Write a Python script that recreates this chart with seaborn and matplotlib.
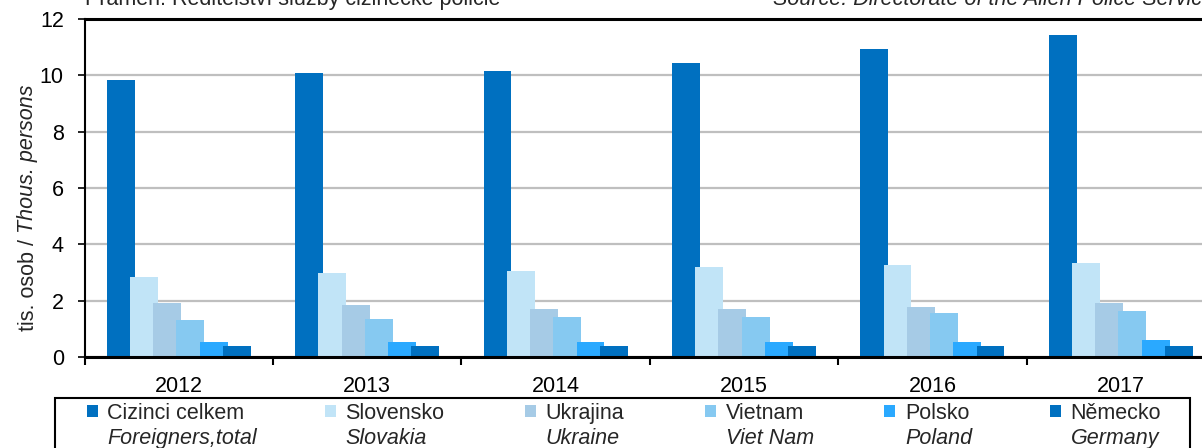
import numpy as np
import pandas as pd
import matplotlib
matplotlib.use("Agg")
import matplotlib.pyplot as plt
import matplotlib.patches as mpatches
from matplotlib.ticker import FixedLocator
from matplotlib.transforms import IdentityTransform
import seaborn as sns

# Data (tis. osob / thous. persons)
years = ["2012", "2013", "2014", "2015", "2016", "2017"]
cizinci = [9.83, 10.09, 10.16, 10.44, 10.93, 11.44]
slovensko = [2.84, 2.98, 3.05, 3.20, 3.27, 3.34]
ukrajina = [1.93, 1.85, 1.71, 1.71, 1.78, 1.93]
vietnam = [1.30, 1.36, 1.43, 1.43, 1.57, 1.65]
polsko = [0.53, 0.53, 0.53, 0.53, 0.53, 0.60]
nemecko = [0.38, 0.38, 0.38, 0.38, 0.38, 0.39]

series_cz = ["Cizinci celkem", "Slovensko", "Ukrajina", "Vietnam", "Polsko", "Německo"]
series_en = ["Foreigners,total", "Slovakia", "Ukraine", "Viet Nam", "Poland", "Germany"]
colors = ["#0070C0", "#C1E4F7", "#A6CBE6", "#86C9F1", "#2AA9FF", "#0070C0"]

df = pd.DataFrame({"rok": years, series_cz[0]: cizinci, series_cz[1]: slovensko,
                   series_cz[2]: ukrajina, series_cz[3]: vietnam,
                   series_cz[4]: polsko, series_cz[5]: nemecko})
long = df.melt(id_vars="rok", var_name="serie", value_name="hodnota")

sns.set_theme(style="white")
plt.rcParams["font.family"] = ["Liberation Sans", "DejaVu Sans"]
FS = 15.5

W, H = 1202, 448
fig = plt.figure(figsize=(W / 100, H / 100), dpi=100)
ax = fig.add_axes([84.6 / W, 1 - 357 / H, (1215 - 84.6) / W, (357 - 19) / H])

sns.barplot(data=long, x="rok", y="hodnota", hue="serie", hue_order=series_cz,
            order=years, palette=colors, errorbar=None, width=0.74,
            linewidth=0, saturation=1, ax=ax)

# Excel-like overlap: widen bars around their centres
bar_w = 0.148
for cont in ax.containers:
    for bar in cont:
        c = bar.get_x() + bar.get_width() / 2
        bar.set_x(c - bar_w / 2)
        bar.set_width(bar_w)

leg = ax.get_legend()
handles = leg.legend_handles
leg.remove()

ax.set_xlim(-0.5, 5.5)
ax.set_ylim(0, 12)
ax.set_yticks(np.arange(0, 13, 2))
ax.set_xlabel("")
ax.set_ylabel("")
ax.set_axisbelow(True)
ax.yaxis.grid(True, color="#BFBFBF", linewidth=1.6)
ax.xaxis.grid(False)

ax.xaxis.set_minor_locator(FixedLocator(np.arange(-0.5, 6, 1)))
ax.tick_params(axis="x", which="major", length=0, pad=14, labelsize=FS, colors="black")
ax.tick_params(axis="x", which="minor", bottom=True, length=6, width=1.5, direction="out", color="black")
ax.tick_params(axis="y", which="major", left=True, length=5, width=1.2, direction="out",
               pad=10, labelsize=FS, colors="black")

for side in ["top", "bottom"]:
    ax.spines[side].set_color("black")
    ax.spines[side].set_linewidth(2.2)
ax.spines["left"].set_color("black")
ax.spines["left"].set_linewidth(1.5)
ax.spines["right"].set_visible(False)

# Top texts (partly clipped as in the original)
fig.text(85 / W, 1 - 5 / H, "Pramen: Ředitelství služby cizinecké policie",
         ha="left", va="baseline", fontsize=FS)
fig.text(1214 / W, 1 - 5 / H, "Source: Directorate of the Alien Police Service",
         ha="right", va="baseline", fontsize=FS, style="italic")

# Legend
lg = fig.legend(handles, series_cz, loc="center left",
                bbox_to_anchor=(76 / W, 1 - 413 / H), ncol=6, frameon=False,
                fontsize=FS, borderpad=0, handlelength=0.5, handleheight=0.5,
                handletextpad=0.45, columnspacing=3.75)
frame = mpatches.Rectangle((55 / W, -0.1), (1190 - 55) / W, (1 - 398 / H) + 0.1,
                           transform=fig.transFigure, fill=False,
                           edgecolor="black", linewidth=1.5)
fig.add_artist(frame)

fig.canvas.draw()
renderer = fig.canvas.get_renderer()

for t, en in zip(lg.get_texts(), series_en):
    bb = t.get_window_extent(renderer)
    fig.text(bb.x0, bb.y0 - 4, en, transform=IdentityTransform(),
             ha="left", va="top", fontsize=FS, style="italic")

# y label: regular + italic part
t1 = fig.text(28 / W, 1 - 331 / H, "tis. osob /", rotation=90,
              ha="center", va="bottom", fontsize=FS)
fig.canvas.draw()
bb1 = t1.get_window_extent(renderer)
fig.text((bb1.x0 + bb1.x1) / 2, bb1.y1, " Thous. persons", rotation=90,
         transform=IdentityTransform(), ha="center", va="bottom",
         fontsize=FS, style="italic")

fig.savefig("out.png", dpi=100)
